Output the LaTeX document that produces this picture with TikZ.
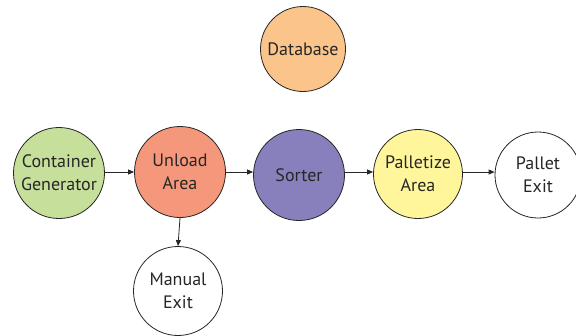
\documentclass[tikz,border=0pt]{standalone}
\usepackage{fontspec}
\setmainfont{PT Sans}
\usetikzlibrary{arrows.meta}
\definecolor{cgreen}{HTML}{C6DF9B}
\definecolor{csalmon}{HTML}{F4977B}
\definecolor{cpurple}{HTML}{8780BD}
\definecolor{cyellow}{HTML}{FFF59B}
\definecolor{corange}{HTML}{FBC48B}
\definecolor{ink}{HTML}{262626}
\tikzset{
  station/.style={circle, draw=ink, line width=0.8pt, minimum size=91pt, inner sep=0pt,
    align=center, text=ink, font=\fontsize{18}{23}\selectfont},
  flow/.style={draw=ink, line width=0.8pt, -{Triangle[length=6pt,width=5pt]}}
}
\begin{document}
\begin{tikzpicture}[x=1pt,y=-1pt]
\useasboundingbox (0,0) rectangle (576,335);
\begin{scope}
\clip (0,0) rectangle (576,335);
\node[station, fill=corange, minimum size=85pt] (db) at (303,49) {Database};
\node[station, fill=cgreen] (gen) at (59,173) {Container\\Generator};
\node[station, fill=csalmon] (unload) at (180,172) {Unload\\Area};
\node[station, fill=cpurple] (sorter) at (299,175) {Sorter};
\node[station, fill=cyellow, minimum size=89pt] (pal) at (418,174) {Palletize\\Area};
\node[station, fill=white, minimum size=86pt] (pexit) at (538,175) {Pallet\\Exit};
\node[station, fill=white, minimum size=89pt] (mexit) at (178,291) {Manual\\Exit};
\draw[flow] (gen.east |- 0,172) -- (unload.west |- 0,172);
\draw[flow] (unload.east |- 0,172) -- (sorter.west |- 0,172);
\draw[flow] (sorter.east |- 0,172) -- (pal.west |- 0,172);
\draw[flow] (pal.east |- 0,172) -- (pexit.west |- 0,172);
\draw[flow] (unload.south) -- (mexit.north);
\end{scope}
\end{tikzpicture}
\end{document}
